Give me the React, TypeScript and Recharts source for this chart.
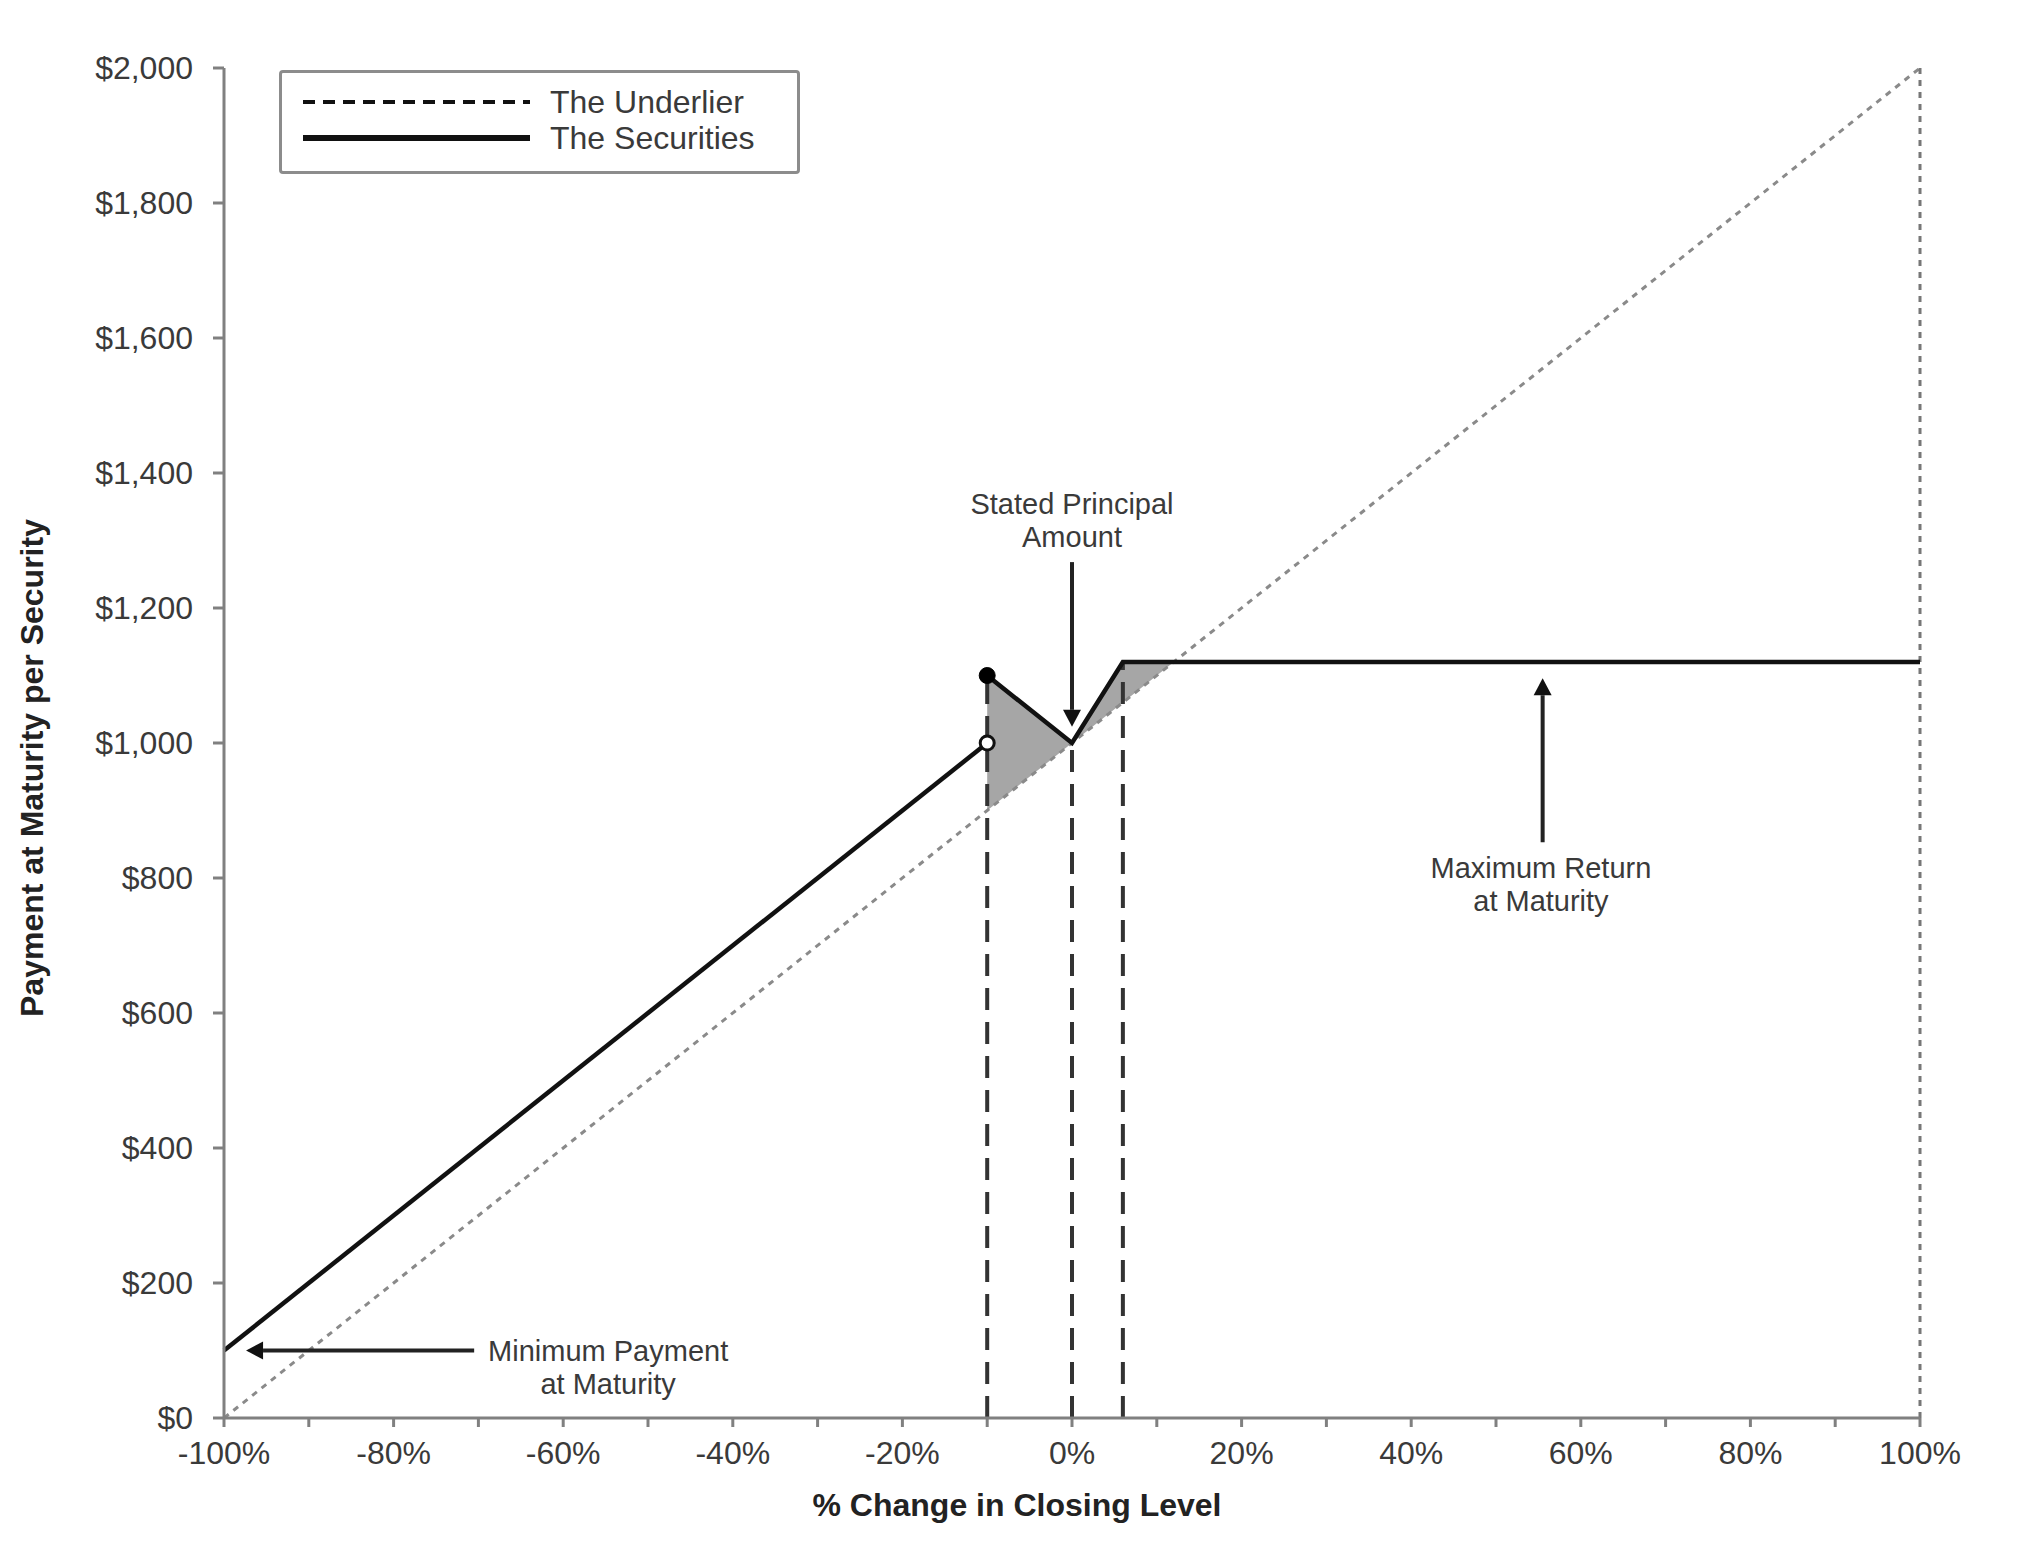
import React from "react";
import {
  Area,
  ComposedChart,
  Label,
  Line,
  ReferenceDot,
  ReferenceLine,
  XAxis,
  YAxis,
} from "recharts";

// % change in closing level (x) and payment at maturity per security (y)
const pctChange = [-100, -10, 0, 6, 12, 100];
const underlierPayment = [0, 900, 1000, 1060, 1120, 2000];
const securitiesBelowBuffer = [100, 1000, null, null, null, null];
const securitiesAboveBuffer = [null, 1100, 1000, 1120, 1120, 1120];
// shaded band where the securities beat the underlier
const outperformLow = [null, 900, 1000, 1060, 1120, null];
const outperformHigh = [null, 1100, 1000, 1120, 1120, null];

const xTicks = [-100, -90, -80, -70, -60, -50, -40, -30, -20, -10, 0, 10, 20, 30, 40, 50, 60, 70, 80, 90, 100];
const yTicks = [0, 200, 400, 600, 800, 1000, 1200, 1400, 1600, 1800, 2000];

// vertical dashed guides: x and the payment where each stops
const guidePct = [-10, 0, 6];
const guidePayment = [1100, 1000, 1120];

const FONT = '"Liberation Sans", Arial, sans-serif';
const TEXT = "#3a3a3a";
const AXIS = "#808080";

const data = pctChange.map((x, i) => ({
  x,
  underlier: underlierPayment[i],
  below: securitiesBelowBuffer[i],
  above: securitiesAboveBuffer[i],
  band: outperformLow[i] == null ? null : [outperformLow[i], outperformHigh[i]],
}));

function Arrow(props: any) {
  const { x1, y1, x2, y2 } = props;
  const dx = x2 - x1;
  const dy = y2 - y1;
  const len = Math.hypot(dx, dy) || 1;
  const ux = dx / len;
  const uy = dy / len;
  const head = 17;
  const half = 9;
  const bx = x2 - ux * head;
  const by = y2 - uy * head;
  const px = -uy;
  const py = ux;
  return (
    <g>
      <line x1={x1} y1={y1} x2={bx} y2={by} stroke="#222" strokeWidth={4} />
      <polygon
        points={`${x2},${y2} ${bx + px * half},${by + py * half} ${bx - px * half},${by - py * half}`}
        fill="#111"
      />
    </g>
  );
}

function note(lines: string[]) {
  return (props: any) => {
    const { cx, cy } = props;
    const gap = 33;
    const start = cy - ((lines.length - 1) * gap) / 2;
    return (
      <g>
        {lines.map((t, i) => (
          <text
            key={t}
            x={cx}
            y={start + i * gap}
            textAnchor="middle"
            dominantBaseline="central"
            fontFamily={FONT}
            fontSize={29}
            fill={TEXT}
          >
            {t}
          </text>
        ))}
      </g>
    );
  };
}

function Legend() {
  return (
    <div
      style={{
        position: "absolute",
        left: 279,
        top: 70,
        width: 515,
        height: 98,
        border: "3px solid #8c8c8c",
        borderRadius: 4,
        background: "#fff",
        fontFamily: FONT,
        fontSize: 32,
        color: TEXT,
      }}
    >
      <svg width={515} height={98} style={{ position: "absolute", left: 0, top: 0 }}>
        <line x1={21} y1={29} x2={248} y2={29} stroke="#111" strokeWidth={4} strokeDasharray="12 8" />
        <line x1={21} y1={65} x2={248} y2={65} stroke="#111" strokeWidth={6} />
        <text x={268} y={29} dominantBaseline="central" fontFamily={FONT} fontSize={32} fill={TEXT}>
          The Underlier
        </text>
        <text x={268} y={65} dominantBaseline="central" fontFamily={FONT} fontSize={32} fill={TEXT}>
          The Securities
        </text>
      </svg>
    </div>
  );
}

export default function App() {
  return (
    <div style={{ position: "fixed", left: 0, top: 0, width: 2018, height: 1550, background: "#fff" }}>
      <ComposedChart
        width={2018}
        height={1550}
        data={data}
        margin={{ top: 68, right: 98, bottom: 72, left: 104 }}
      >
        <XAxis
          dataKey="x"
          type="number"
          domain={[-100, 100]}
          ticks={xTicks}
          interval={0}
          height={60}
          tickFormatter={(v: number) => (v % 20 === 0 ? `${v}%` : "")}
          tick={{ fontFamily: FONT, fontSize: 32, fill: TEXT }}
          tickSize={9}
          tickMargin={14}
          axisLine={{ stroke: AXIS, strokeWidth: 3 }}
          tickLine={{ stroke: AXIS, strokeWidth: 3 }}
        >
          <Label
            content={() => (
              <text
                x={1017}
                y={1505}
                textAnchor="middle"
                dominantBaseline="central"
                fontFamily={FONT}
                fontSize={32}
                fontWeight="bold"
                fill="#222"
              >
                % Change in Closing Level
              </text>
            )}
          />
        </XAxis>
        <YAxis
          type="number"
          domain={[0, 2000]}
          ticks={yTicks}
          interval={0}
          width={120}
          tickFormatter={(v: number) => `$${v.toLocaleString("en-US")}`}
          tick={{ fontFamily: FONT, fontSize: 32, fill: TEXT }}
          tickSize={11}
          tickMargin={20}
          axisLine={{ stroke: AXIS, strokeWidth: 3 }}
          tickLine={{ stroke: AXIS, strokeWidth: 3 }}
        >
          <Label
            content={() => (
              <text
                x={32}
                y={768}
                transform="rotate(-90 32 768)"
                textAnchor="middle"
                dominantBaseline="central"
                fontFamily={FONT}
                fontSize={32}
                fontWeight="bold"
                fill="#222"
              >
                Payment at Maturity per Security
              </text>
            )}
          />
        </YAxis>

        <Area
          dataKey="band"
          type="linear"
          fill="#a6a6a6"
          fillOpacity={1}
          stroke="none"
          isAnimationActive={false}
        />
        <Line
          dataKey="underlier"
          type="linear"
          stroke="#8a8a8a"
          strokeWidth={3}
          strokeDasharray="6 6"
          dot={false}
          isAnimationActive={false}
        />
        <ReferenceLine
          segment={[{ x: 100, y: 0 }, { x: 100, y: 2000 }]}
          stroke="#777"
          strokeWidth={3}
          strokeDasharray="6 6"
        />
        {guidePct.map((x, i) => (
          <ReferenceLine
            key={x}
            segment={[{ x, y: 0 }, { x, y: guidePayment[i] }]}
            stroke="#333"
            strokeWidth={4}
            strokeDasharray="22 12"
          />
        ))}
        <Line
          dataKey="below"
          type="linear"
          stroke="#111"
          strokeWidth={4.5}
          dot={false}
          isAnimationActive={false}
        />
        <Line
          dataKey="above"
          type="linear"
          stroke="#111"
          strokeWidth={4.5}
          dot={false}
          isAnimationActive={false}
        />
        <ReferenceDot x={-10} y={1100} r={8} fill="#000" stroke="#000" strokeWidth={1} />
        <ReferenceDot x={-10} y={1000} r={7} fill="#fff" stroke="#111" strokeWidth={3} />

        <ReferenceLine segment={[{ x: 0, y: 1268 }, { x: 0, y: 1024 }]} shape={Arrow} />
        <ReferenceLine segment={[{ x: 55.5, y: 853 }, { x: 55.5, y: 1096 }]} shape={Arrow} />
        <ReferenceLine segment={[{ x: -70.5, y: 100 }, { x: -97.4, y: 100 }]} shape={Arrow} />

        <ReferenceDot x={0} y={1330} r={0} shape={note(["Stated Principal", "Amount"])} />
        <ReferenceDot x={55.3} y={790} r={0} shape={note(["Maximum Return", "at Maturity"])} />
        <ReferenceDot x={-54.7} y={75} r={0} shape={note(["Minimum Payment", "at Maturity"])} />
      </ComposedChart>
      <Legend />
    </div>
  );
}
